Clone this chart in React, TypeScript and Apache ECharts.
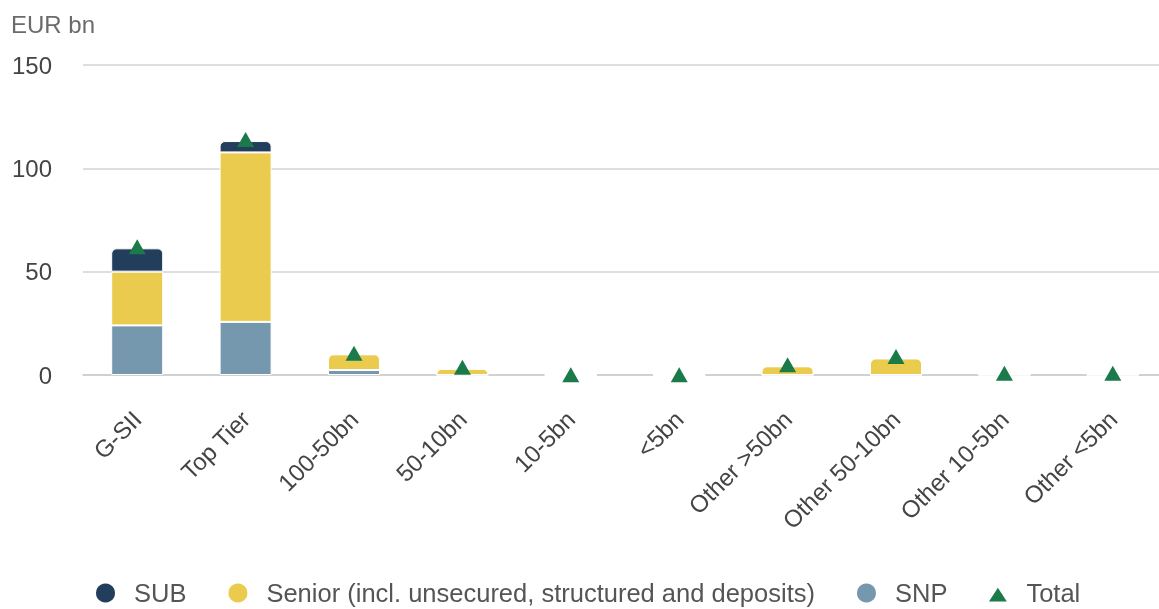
import React, { useEffect, useRef } from "react";
import * as echarts from "echarts";

const categories = ["G-SII", "Top Tier", "100-50bn", "50-10bn", "10-5bn", "<5bn", "Other >50bn", "Other 50-10bn", "Other 10-5bn", "Other <5bn"];
const snp = [24, 25.7, 2.4, 0, 0, 0, 0, 0, 0, 0];
const senior = [26, 82, 7.6, 3, 0, 0, 4.2, 8, 0.4, 0.4];
const sub = [11.3, 5.5, 0, 0, 0, 0, 0, 0, 0, 0];
const total = [62, 114, 10.5, 3.8, 0.1, 0.1, 5, 9, 0.8, 0.8];
const yTicks = [0, 50, 100, 150];

const COLORS = { sub: "#233d5c", senior: "#ebcb4e", snp: "#7598ae", total: "#1b7a4a" };
const FONT = "'Liberation Sans', Arial, sans-serif";

export default function App() {
  const ref = useRef<HTMLDivElement>(null);
  useEffect(() => {
    if (!ref.current) return;
    const chart = echarts.init(ref.current, null, { renderer: "svg" });
    const stackOrder = [snp, senior, sub];
    const topIndex = categories.map((_, i) => {
      let t = -1;
      stackOrder.forEach((arr, k) => { if (arr[i] > 0) t = k; });
      return t;
    });
    const mk = (arr: number[], k: number) =>
      arr.map((v, i) => ({
        value: v,
        itemStyle: { borderRadius: topIndex[i] === k ? [5, 5, 0, 0] : 0 },
      }));
    const barBase = {
      type: "bar" as const,
      stack: "s",
      barWidth: 52,
      itemStyle: { borderColor: "#ffffff", borderWidth: 1 },
    };
    chart.setOption({
      animation: false,
      textStyle: { fontFamily: FONT },
      grid: { left: 83, right: 0, top: 65, bottom: 234, containLabel: false },
      graphic: [
        { type: "text", left: 11, top: 12, style: { text: "EUR bn", fontSize: 24, fill: "#6b6b6b", fontFamily: FONT } },
      ],
      legend: {
        top: 575,
        left: 89,
        itemGap: 40,
        itemWidth: 47,
        itemHeight: 21,
        symbolKeepAspect: true,
        textStyle: { fontSize: 25.5, color: "#555", fontFamily: FONT },
        data: [
          { name: "SUB", icon: "circle" },
          { name: "Senior (incl. unsecured, structured and deposits)", icon: "circle" },
          { name: "SNP", icon: "circle" },
          { name: "Total", icon: "path://M0,0 M20,20 M10,5 L18.5,18 L1.5,18 Z" },
        ],
      },
      xAxis: {
        type: "category",
        data: categories,
        axisTick: { show: false },
        axisLine: { lineStyle: { color: "#cccccc", width: 1.5 } },
        axisLabel: { rotate: 45, margin: 40, fontSize: 24, color: "#444", fontFamily: FONT, interval: 0 },
      },
      yAxis: {
        type: "value",
        min: yTicks[0],
        max: yTicks[yTicks.length - 1],
        interval: 50,
        axisLabel: { fontSize: 24, color: "#444", margin: 31, fontFamily: FONT },
        splitLine: { lineStyle: { color: "#d3d3d3", width: 1.5 } },
      },
      series: [
        { ...barBase, name: "SNP", color: COLORS.snp, data: mk(snp, 0) },
        { ...barBase, name: "Senior (incl. unsecured, structured and deposits)", color: COLORS.senior, data: mk(senior, 1) },
        { ...barBase, name: "SUB", color: COLORS.sub, data: mk(sub, 2) },
        {
          type: "scatter",
          name: "Total",
          color: COLORS.total,
          itemStyle: { opacity: 1 },
          symbol: "triangle",
          symbolSize: [17, 15],
          data: total,
          z: 5,
        },
      ],
    });
    return () => chart.dispose();
  }, []);
  return <div ref={ref} style={{ position: "fixed", left: 0, top: 0, width: 1167, height: 609 }} />;
}
